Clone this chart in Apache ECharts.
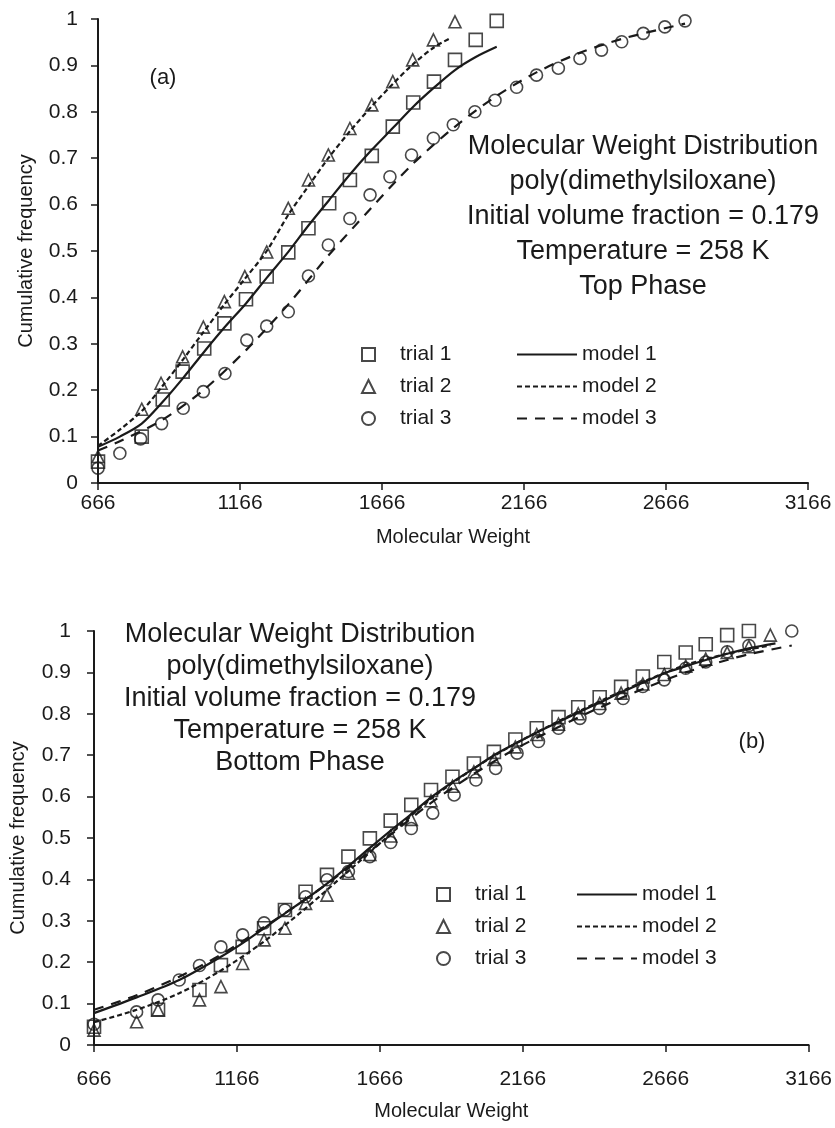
<!DOCTYPE html>
<html>
<head>
<meta charset="utf-8">
<script src="https://cdn.jsdelivr.net/npm/echarts@6/dist/echarts.min.js"></script>
<style>
html,body{margin:0;padding:0;background:#fff;}
#c{width:835px;height:1128px;}
</style>
</head>
<body>
<div id="c"></div>
<script>
// ---- tick labels ----
const xTicks = [666, 1166, 1666, 2166, 2666, 3166];

// ---- (a) Top phase ----
const topTrial1 = [[666,0.046],[820,0.10],[894,0.18],[964,0.24],[1040,0.29],[1111,0.344],[1187,0.396],[1260,0.445],[1336,0.497],[1407,0.549],[1480,0.603],[1553,0.653],[1630,0.705],[1704,0.768],[1776,0.82],[1849,0.865],[1923,0.912],[1996,0.955],[2070,0.996]];
const topTrial2 = [[666,0.057],[820,0.159],[888,0.215],[964,0.272],[1037,0.336],[1111,0.391],[1183,0.445],[1260,0.498],[1336,0.592],[1407,0.653],[1477,0.707],[1553,0.764],[1630,0.815],[1704,0.865],[1774,0.912],[1847,0.955],[1923,0.994]];
const topTrial3 = [[666,0.032],[743,0.064],[816,0.095],[890,0.128],[966,0.161],[1037,0.197],[1113,0.236],[1190,0.308],[1260,0.338],[1336,0.369],[1407,0.446],[1477,0.513],[1553,0.57],[1624,0.621],[1694,0.66],[1770,0.707],[1847,0.743],[1917,0.772],[1993,0.80],[2064,0.825],[2140,0.853],[2210,0.879],[2287,0.894],[2363,0.915],[2439,0.933],[2510,0.951],[2586,0.969],[2662,0.983],[2733,0.996]];
const topModel1 = [[666,0.078],[743,0.10],[820,0.128],[894,0.175],[964,0.225],[1040,0.283],[1111,0.335],[1187,0.387],[1260,0.442],[1336,0.498],[1407,0.555],[1480,0.61],[1553,0.665],[1630,0.718],[1704,0.765],[1776,0.811],[1849,0.852],[1923,0.89],[1996,0.918],[2070,0.94]];
const topModel2 = [[666,0.08],[743,0.115],[820,0.155],[888,0.205],[964,0.265],[1037,0.325],[1111,0.385],[1183,0.44],[1260,0.50],[1336,0.578],[1407,0.64],[1477,0.70],[1553,0.758],[1630,0.812],[1704,0.86],[1774,0.902],[1847,0.938],[1910,0.96]];
const topModel3 = [[666,0.07],[743,0.09],[890,0.135],[1037,0.2],[1190,0.288],[1336,0.385],[1477,0.49],[1624,0.59],[1770,0.685],[1917,0.765],[2064,0.832],[2210,0.885],[2363,0.927],[2510,0.957],[2662,0.98],[2733,0.99]];

// ---- (b) Bottom phase ----
const botTrial1 = [[666,0.044],[890,0.085],[1035,0.133],[1110,0.193],[1186,0.237],[1261,0.282],[1334,0.326],[1406,0.37],[1481,0.411],[1556,0.455],[1631,0.499],[1704,0.542],[1776,0.58],[1845,0.616],[1920,0.648],[1995,0.68],[2065,0.708],[2140,0.738],[2215,0.765],[2291,0.792],[2360,0.816],[2435,0.84],[2510,0.865],[2586,0.89],[2661,0.925],[2736,0.948],[2806,0.968],[2881,0.99],[2957,1.0]];
const botTrial2 = [[666,0.036],[815,0.056],[890,0.085],[1035,0.109],[1110,0.141],[1186,0.197],[1261,0.254],[1334,0.282],[1406,0.342],[1481,0.362],[1556,0.415],[1631,0.46],[1704,0.505],[1776,0.545],[1845,0.59],[1920,0.625],[1995,0.66],[2065,0.69],[2140,0.72],[2215,0.75],[2291,0.775],[2360,0.80],[2435,0.825],[2510,0.85],[2586,0.872],[2661,0.895],[2736,0.915],[2806,0.932],[2881,0.948],[2957,0.962],[3032,0.99]];
const botTrial3 = [[666,0.05],[815,0.08],[890,0.109],[964,0.157],[1035,0.192],[1110,0.237],[1186,0.266],[1261,0.295],[1334,0.326],[1406,0.358],[1481,0.399],[1556,0.419],[1631,0.455],[1704,0.489],[1776,0.523],[1851,0.56],[1926,0.604],[2002,0.64],[2071,0.668],[2146,0.705],[2221,0.733],[2291,0.765],[2366,0.789],[2435,0.813],[2517,0.837],[2586,0.866],[2661,0.882],[2736,0.91],[2806,0.925],[2881,0.95],[2957,0.965],[3107,1.0]];
const botModel1 = [[666,0.077],[815,0.115],[964,0.157],[1110,0.213],[1186,0.246],[1261,0.282],[1334,0.318],[1406,0.352],[1481,0.39],[1556,0.432],[1631,0.476],[1704,0.518],[1776,0.558],[1845,0.598],[1920,0.635],[1995,0.668],[2065,0.70],[2140,0.728],[2215,0.755],[2291,0.78],[2360,0.803],[2435,0.827],[2510,0.852],[2586,0.875],[2661,0.898],[2736,0.915],[2806,0.93],[2881,0.945],[2957,0.958],[3050,0.97]];
const botModel2 = [[666,0.055],[815,0.085],[964,0.125],[1110,0.18],[1261,0.25],[1406,0.33],[1556,0.42],[1704,0.51],[1845,0.595],[1995,0.668],[2140,0.728],[2291,0.782],[2435,0.83],[2586,0.877],[2736,0.918],[2881,0.945],[3032,0.965]];
const botModel3 = [[666,0.085],[815,0.12],[964,0.165],[1110,0.218],[1261,0.285],[1406,0.352],[1556,0.428],[1704,0.508],[1845,0.585],[1995,0.655],[2140,0.715],[2291,0.768],[2435,0.815],[2586,0.86],[2736,0.9],[2881,0.93],[2957,0.944],[3107,0.965]];

// ---- texts ----
const topLines = ['Molecular Weight Distribution','poly(dimethylsiloxane)','Initial volume fraction = 0.179','Temperature = 258 K','Top Phase'];
const botLines = ['Molecular Weight Distribution','poly(dimethylsiloxane)','Initial volume fraction = 0.179','Temperature = 258 K','Bottom Phase'];

const FONT = 'Liberation Sans, Arial, sans-serif';
const INK = '#1a1a1a';

function xAxis(gi, gap) {
  return {
    gridIndex: gi, type: 'value', min: 666, max: 3166,
    axisLine: { show: true, onZero: false, lineStyle: { color: INK, width: 2 } },
    axisTick: { show: true, customValues: xTicks, length: 7, lineStyle: { color: INK, width: 1.5 } },
    axisLabel: { customValues: xTicks, fontSize: 21, color: INK, fontFamily: FONT, margin: gi === 0 ? 10 : 24,
      formatter: function (v) { return String(v); } },
    splitLine: { show: false },
    name: 'Molecular Weight', nameLocation: 'middle', nameGap: gap,
    nameTextStyle: { fontSize: 20, color: INK, fontFamily: FONT }
  };
}
function yAxis(gi, margin, gap) {
  return {
    gridIndex: gi, type: 'value', min: 0, max: 1, interval: 0.1,
    axisLine: { show: true, onZero: false, lineStyle: { color: INK, width: 2 } },
    axisTick: { show: true, length: 7, lineStyle: { color: INK, width: 1.5 } },
    axisLabel: { fontSize: 21, color: INK, fontFamily: FONT, margin: margin },
    splitLine: { show: false },
    name: 'Cumulative frequency', nameLocation: 'middle', nameGap: gap,
    nameTextStyle: { fontSize: 20, color: INK, fontFamily: FONT }
  };
}
function trial(name, data, sym, size, gi) {
  return {
    type: 'scatter', name: name, data: data, xAxisIndex: gi, yAxisIndex: gi,
    symbol: sym, symbolSize: size,
    itemStyle: { color: 'rgba(255,255,255,0)', borderColor: INK, borderWidth: 1.6 },
    z: 3
  };
}
function model(name, data, type, gi) {
  return {
    type: 'line', name: name, data: data, xAxisIndex: gi, yAxisIndex: gi,
    smooth: 0.3, symbol: 'none', showSymbol: false,
    lineStyle: { color: INK, width: 2.2, type: type },
    itemStyle: { color: INK },
    z: 2
  };
}
const shortDash = [5, 3];
const longDash = [10, 8];

function legendTrials(left, top) {
  return {
    orient: 'vertical', left: left, top: top, itemGap: 11, itemWidth: 13, itemHeight: 13,
    data: ['trial 1', 'trial 2', 'trial 3'],
    textStyle: { fontSize: 21, color: INK, fontFamily: FONT, padding: [0, 0, 0, 20] },
    selectedMode: false
  };
}
function legendModels(left, top) {
  return {
    orient: 'vertical', left: left, top: top, itemGap: 11, itemWidth: 60, itemHeight: 13,
    data: ['model 1', 'model 2', 'model 3'],
    itemStyle: { opacity: 0 },
    textStyle: { fontSize: 21, color: INK, fontFamily: FONT },
    selectedMode: false
  };
}

const graphic = [];
topLines.forEach(function (t, i) {
  graphic.push({ type: 'text', x: 643, y: 147 + i * 35,
    style: { text: t, font: '27px ' + FONT, fill: INK, textAlign: 'center', textVerticalAlign: 'middle' } });
});
botLines.forEach(function (t, i) {
  graphic.push({ type: 'text', x: 300, y: 635 + i * 32,
    style: { text: t, font: '27px ' + FONT, fill: INK, textAlign: 'center', textVerticalAlign: 'middle' } });
});
graphic.push({ type: 'text', x: 163, y: 78, style: { text: '(a)', font: '22px ' + FONT, fill: INK, textAlign: 'center', textVerticalAlign: 'middle' } });
graphic.push({ type: 'text', x: 752, y: 742, style: { text: '(b)', font: '22px ' + FONT, fill: INK, textAlign: 'center', textVerticalAlign: 'middle' } });

const chart = echarts.init(document.getElementById('c'), null, { renderer: 'canvas' });
chart.setOption({
  animation: false,
  backgroundColor: '#fff',
  grid: [
    { left: 98, top: 19, width: 710, height: 464 },
    { left: 92, top: 631, width: 719, height: 414 }
  ],
  xAxis: [xAxis(0, 44), xAxis(1, 56)],
  yAxis: [yAxis(0, 20, 62), yAxis(1, 23, 66)],
  legend: [legendTrials(356, 339), legendModels(511, 339), legendTrials(431, 879), legendModels(571, 879)],
  graphic: graphic,
  series: [
    trial('trial 1', topTrial1, 'rect', 13, 0),
    trial('trial 2', topTrial2, 'triangle', 12, 0),
    trial('trial 3', topTrial3, 'circle', 12, 0),
    model('model 1', topModel1, 'solid', 0),
    model('model 2', topModel2, shortDash, 0),
    model('model 3', topModel3, longDash, 0),
    trial('trial 1', botTrial1, 'rect', 13, 1),
    trial('trial 2', botTrial2, 'triangle', 12, 1),
    trial('trial 3', botTrial3, 'circle', 12, 1),
    model('model 1', botModel1, 'solid', 1),
    model('model 2', botModel2, shortDash, 1),
    model('model 3', botModel3, longDash, 1)
  ]
});
</script>
</body>
</html>
